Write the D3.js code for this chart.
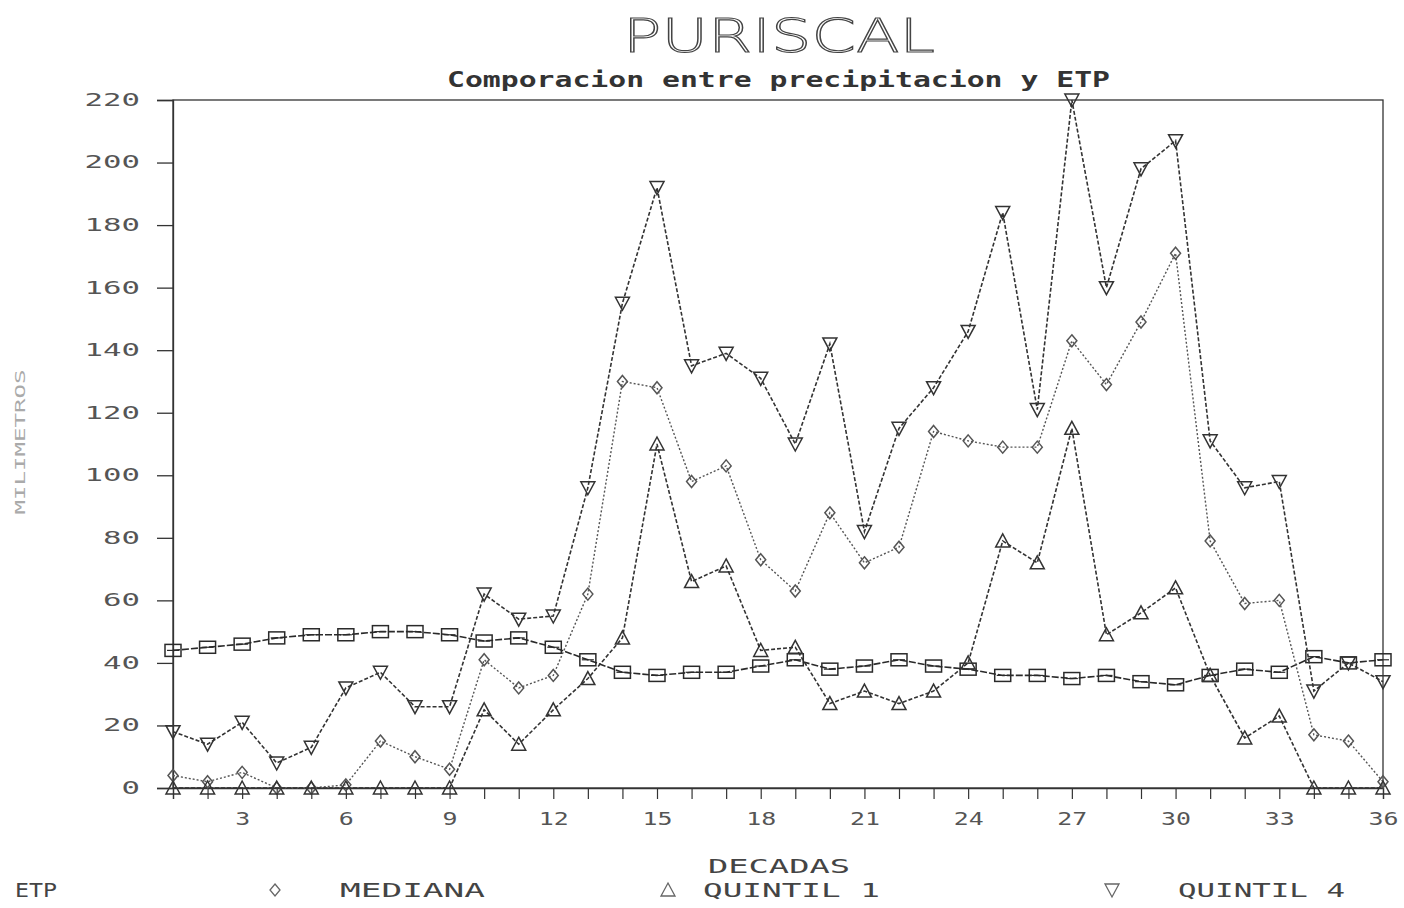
<!DOCTYPE html>
<html>
<head>
<meta charset="utf-8">
<script src="https://cdn.jsdelivr.net/npm/d3@7/dist/d3.min.js"></script>
<style>
  html, body { margin: 0; padding: 0; background: #fff; }
  svg { display: block; }
  .mono { font-family: "DejaVu Sans Mono", "Liberation Mono", monospace; }
</style>
</head>
<body>
<div id="chart"></div>
<script>
// Decades of the year (1..36)
const decadas = d3.range(1, 37);

// Potential evapotranspiration (mm)
const etp = [44, 45, 46, 48, 49, 49, 50, 50, 49, 47, 48, 45, 41, 37, 36, 37, 37, 39,
             41, 38, 39, 41, 39, 38, 36, 36, 35, 36, 34, 33, 36, 38, 37, 42, 40, 41];

// Median precipitation (mm)
const mediana = [4, 2, 5, 0, 0, 1, 15, 10, 6, 41, 32, 36, 62, 130, 128, 98, 103, 73,
                 63, 88, 72, 77, 114, 111, 109, 109, 143, 129, 149, 171, 79, 59, 60, 17, 15, 2];

// First quintile of precipitation (mm)
const quintil1 = [0, 0, 0, 0, 0, 0, 0, 0, 0, 25, 14, 25, 35, 48, 110, 66, 71, 44,
                  45, 27, 31, 27, 31, 40, 79, 72, 115, 49, 56, 64, 36, 16, 23, 0, 0, 0];

// Fourth quintile of precipitation (mm)
const quintil4 = [18, 14, 21, 8, 13, 32, 37, 26, 26, 62, 54, 55, 96, 155, 192, 135, 139, 131,
                  110, 142, 82, 115, 128, 146, 184, 121, 220, 160, 198, 207, 111, 96, 98, 31, 40, 34];

// Axis ticks
const yTicks = d3.range(0, 221, 20);
const xLabelTicks = d3.range(3, 37, 3);

const W = 1404, H = 908;
const svg = d3.select("#chart").append("svg").attr("width", W).attr("height", H);

const x = d3.scaleLinear().domain([1, 36]).range([173, 1383]);
const y = d3.scaleLinear().domain([0, 220]).range([788, 100]);

const ink = "#333";
const txt = "#555";

// Wide, blocky digits: stretch each label to a fixed width per character
const stretch = (sel, perChar) =>
  sel.each(function () {
    const t = d3.select(this);
    const s = t.text();
    if (s.length) t.attr("textLength", s.length * perChar).attr("lengthAdjust", "spacingAndGlyphs");
  });

// Titles
svg.append("text")
  .attr("x", 779).attr("y", 52)
  .attr("text-anchor", "middle")
  .attr("font-family", "DejaVu Sans, sans-serif")
  .attr("font-size", 46)
  .attr("font-weight", 200)
  .attr("fill", "none").attr("stroke", "#444").attr("stroke-width", 1.1)
  .attr("textLength", 312).attr("lengthAdjust", "spacingAndGlyphs")
  .text("PURISCAL");

svg.append("text")
  .attr("class", "mono")
  .attr("x", 447).attr("y", 87)
  .attr("font-size", 21).attr("font-weight", "bold")
  .attr("fill", "#333")
  .attr("textLength", 663).attr("lengthAdjust", "spacingAndGlyphs")
  .text("Comporacion entre precipitacion y ETP");

// Frame
const g = svg.append("g");
g.append("rect")
  .attr("x", x(1)).attr("y", y(220))
  .attr("width", x(36) - x(1)).attr("height", y(0) - y(220))
  .attr("fill", "none").attr("stroke", ink).attr("stroke-width", 1.3);

// Y axis
const yAxis = d3.axisLeft(y).tickValues(yTicks).tickSize(16).tickPadding(17)
  .tickFormat(d => String(d));
const ya = g.append("g").attr("transform", `translate(${x(1)},0)`).call(yAxis);
ya.select(".domain").attr("stroke", ink).attr("stroke-width", 1.3);
ya.selectAll(".tick line").attr("stroke", ink).attr("stroke-width", 1.3);
ya.selectAll(".tick text")
  .attr("class", "mono").attr("font-size", 17).attr("fill", txt)
  .call(stretch, 18.5);

// X axis: a tick at every decade, a label every third
const xAxis = d3.axisBottom(x).tickValues(decadas).tickSize(11).tickPadding(14)
  .tickFormat(d => (d % 3 === 0 ? String(d) : ""));
const xa = g.append("g").attr("transform", `translate(0,${y(0)})`).call(xAxis);
xa.select(".domain").attr("stroke", ink).attr("stroke-width", 1.3);
xa.selectAll(".tick line").attr("stroke", ink).attr("stroke-width", 1.2);
xa.selectAll(".tick text")
  .attr("class", "mono").attr("font-size", 17).attr("fill", txt)
  .call(stretch, 15);

// Axis titles
svg.append("text")
  .attr("class", "mono")
  .attr("transform", "translate(25,442) rotate(-90)")
  .attr("text-anchor", "middle")
  .attr("font-size", 14).attr("fill", "#aaa")
  .attr("textLength", 145).attr("lengthAdjust", "spacingAndGlyphs")
  .text("MILIMETROS");

svg.append("text")
  .attr("class", "mono")
  .attr("x", 708).attr("y", 873)
  .attr("font-size", 19).attr("fill", "#444")
  .attr("textLength", 142).attr("lengthAdjust", "spacingAndGlyphs")
  .text("DECADAS");

// Marker shapes
const markers = {
  square: (sel) => sel.append("rect").attr("x", -8).attr("y", -6).attr("width", 16).attr("height", 12),
  diamond: (sel) => sel.append("path").attr("d", "M0,-6L5,0L0,6L-5,0Z"),
  triangle: (sel) => sel.append("path").attr("d", "M0,-7L7,6L-7,6Z"),
  invtriangle: (sel) => sel.append("path").attr("d", "M-7,-6L7,-6L0,7Z")
};

const series = [
  { name: "ETP", values: etp, marker: "square", dash: "7,2", color: "#2a2a2a", width: 1.6 },
  { name: "MEDIANA", values: mediana, marker: "diamond", dash: "2,2", color: "#555", width: 1.4 },
  { name: "QUINTIL 1", values: quintil1, marker: "triangle", dash: "4,2", color: "#333", width: 1.6 },
  { name: "QUINTIL 4", values: quintil4, marker: "invtriangle", dash: "4,2", color: "#333", width: 1.6 }
];

const line = d3.line().x((d, i) => x(decadas[i])).y(d => y(d));

series.forEach(s => {
  g.append("path")
    .datum(s.values)
    .attr("d", line)
    .attr("fill", "none")
    .attr("stroke", s.color)
    .attr("stroke-width", s.width)
    .attr("stroke-dasharray", s.dash);

  const pts = g.append("g").selectAll("g")
    .data(s.values)
    .join("g")
    .attr("transform", (d, i) => `translate(${x(decadas[i])},${y(d)})`);
  markers[s.marker](pts)
    .attr("fill", "none")
    .attr("stroke", s.color)
    .attr("stroke-width", 1.5);
  if (s.marker === "square") {
    pts.append("line").attr("x1", -6).attr("x2", 6).attr("y1", 0).attr("y2", 0)
      .attr("stroke", s.color).attr("stroke-width", 1.2);
  }
});

// Legend
const legendY = 897;
const legendText = [
  { label: "ETP", x: 15, len: 42 },
  { label: "MEDIANA", x: 340, len: 145 },
  { label: "QUINTIL 1", x: 703, len: 177 },
  { label: "QUINTIL 4", x: 1178, len: 167 }
];
legendText.forEach(t => {
  svg.append("text")
    .attr("class", "mono")
    .attr("x", t.x).attr("y", legendY)
    .attr("font-size", 19).attr("fill", "#444")
    .attr("textLength", t.len).attr("lengthAdjust", "spacingAndGlyphs")
    .text(t.label);
});
const legendMarks = [
  { marker: "diamond", x: 275 },
  { marker: "triangle", x: 668 },
  { marker: "invtriangle", x: 1112 }
];
legendMarks.forEach(m => {
  const lg = svg.append("g").attr("transform", `translate(${m.x},${legendY - 7})`);
  markers[m.marker](lg).attr("fill", "none").attr("stroke", "#666").attr("stroke-width", 1.3);
});
</script>
</body>
</html>
